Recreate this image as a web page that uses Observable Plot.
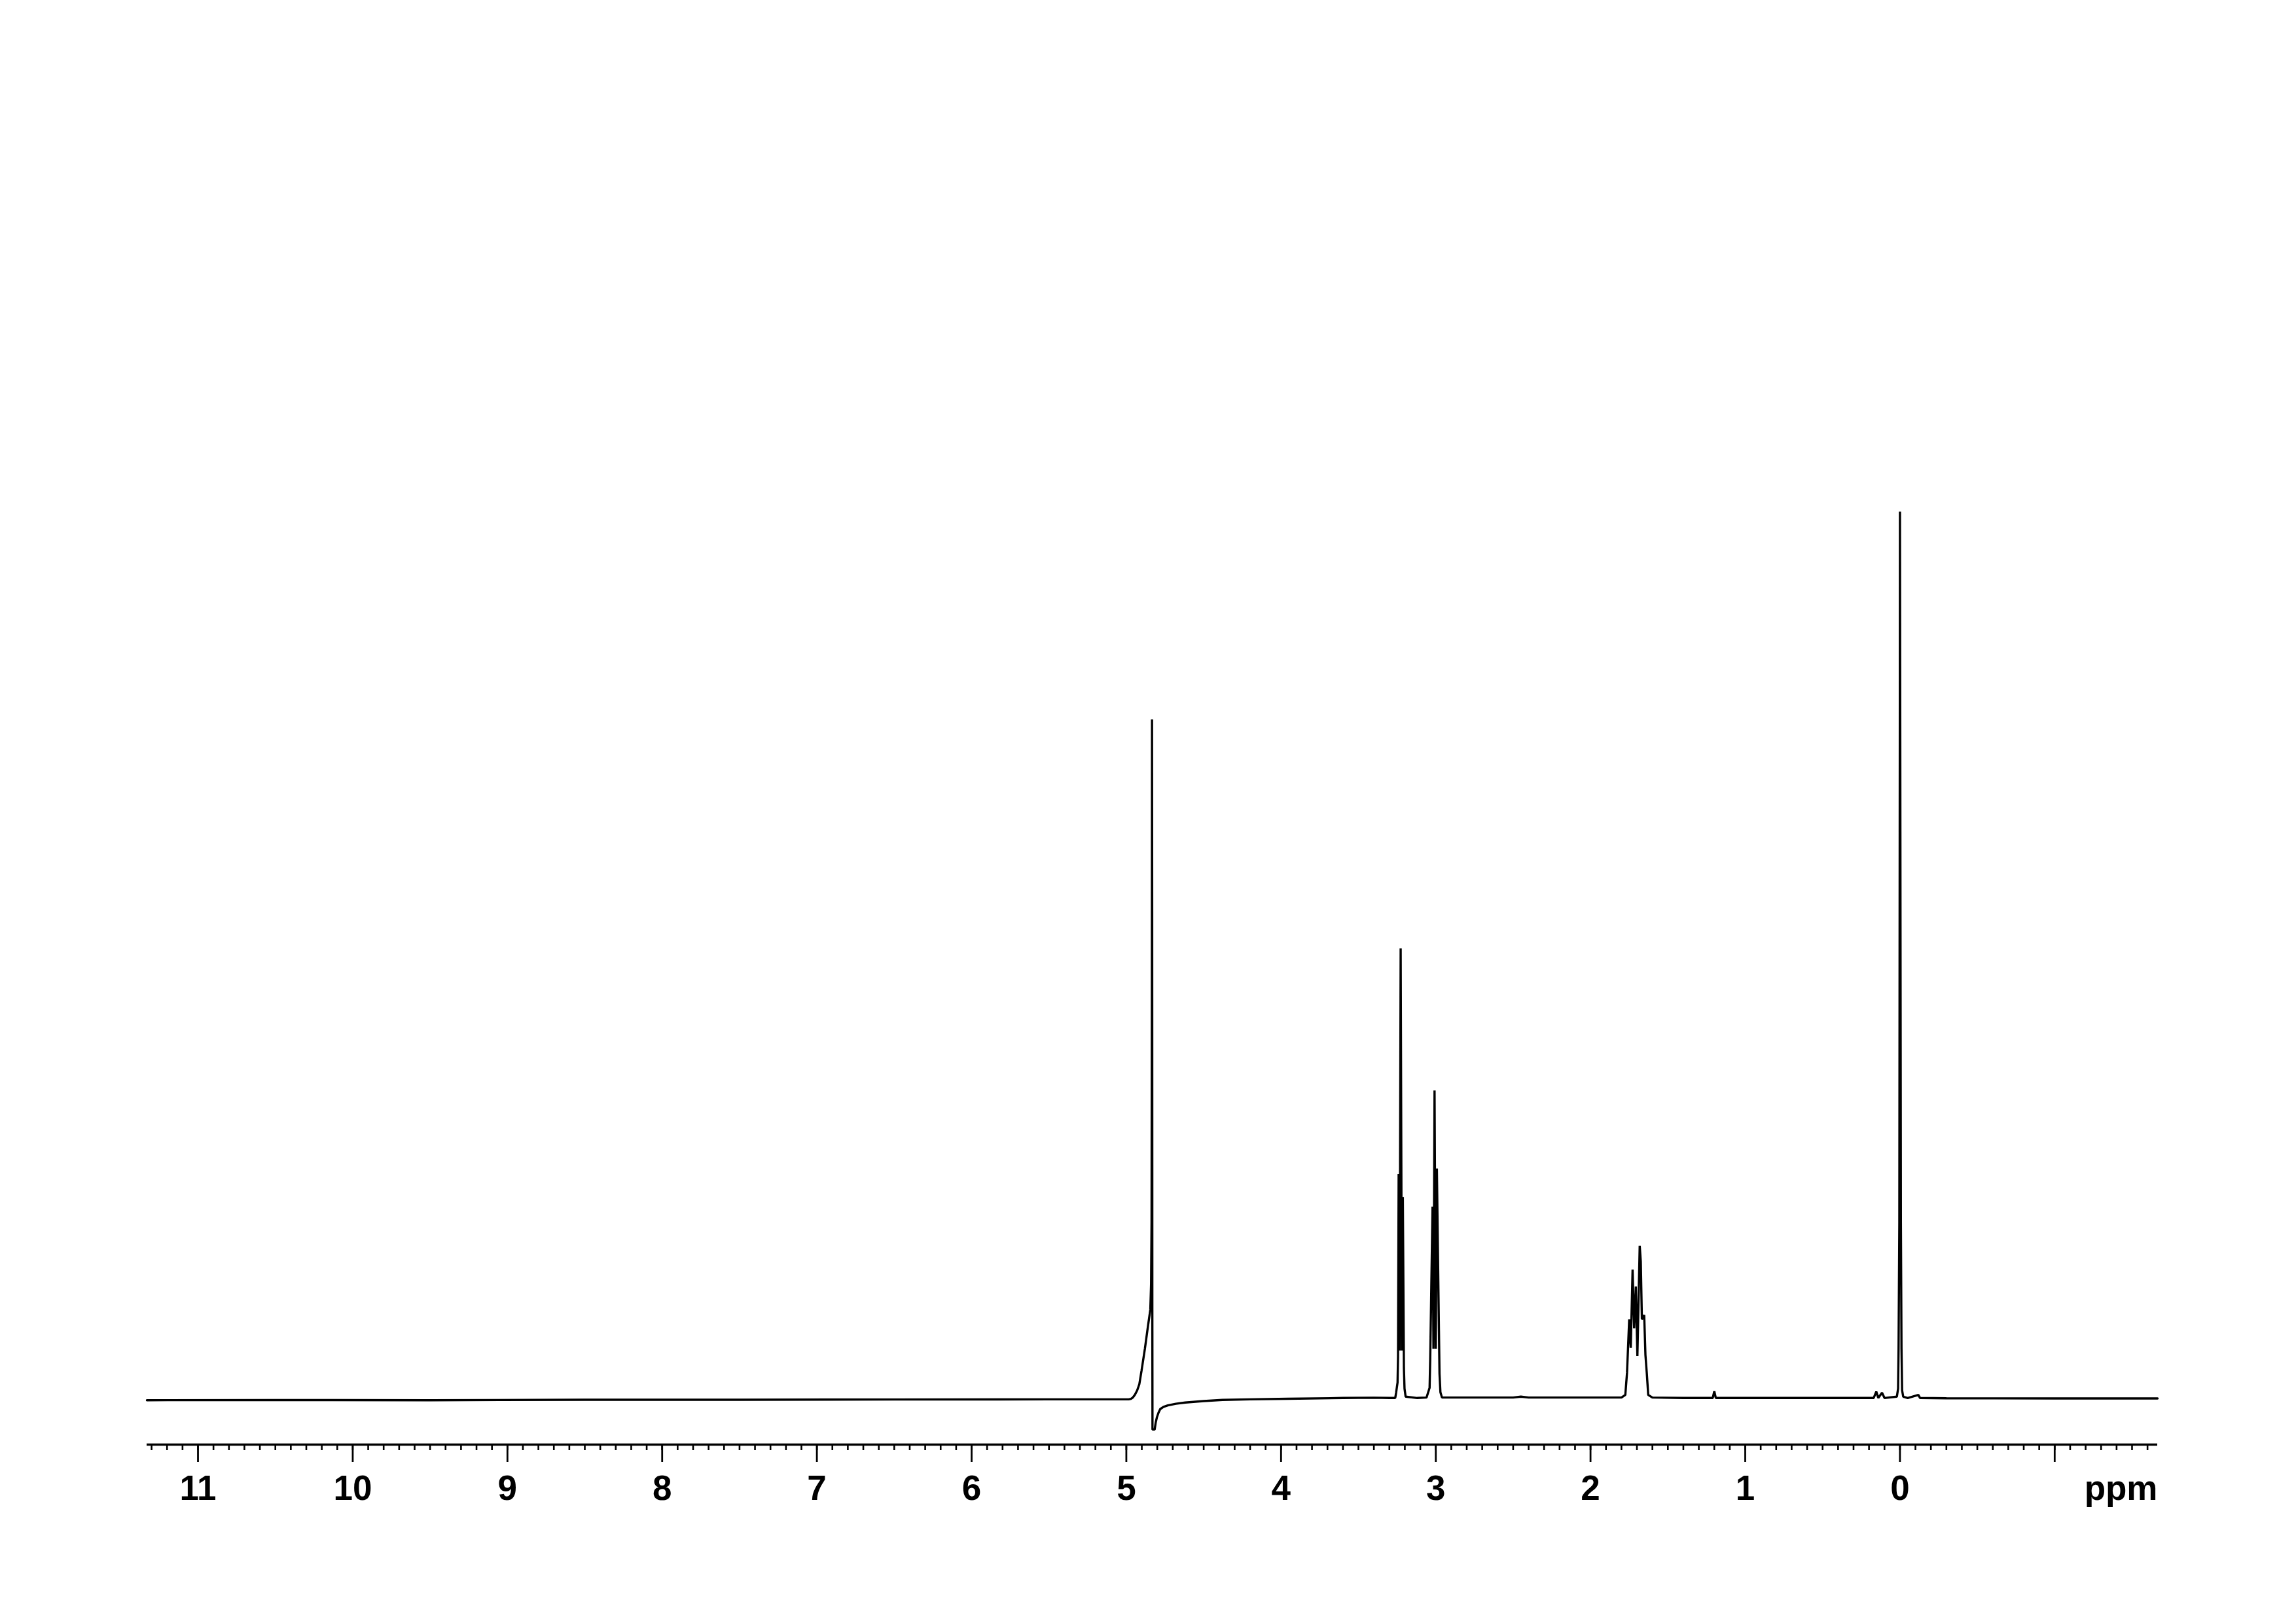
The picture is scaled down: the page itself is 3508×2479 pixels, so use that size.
<!DOCTYPE html>
<html><head><meta charset="utf-8">
<script src="https://cdn.jsdelivr.net/npm/d3@7"></script>
<script src="https://cdn.jsdelivr.net/npm/@observablehq/plot@0.6"></script>
<style>html,body{margin:0;padding:0;background:#fff;}</style>
</head><body><div id="chart"></div>
<script>
// ---- Data (chemical shift in ppm, relative intensity) ----
const baselineLeftPpm = [11.33, 10.5, 9.5, 8.5, 7.5, 6.5, 5.5, 5.0];
const baselineLeftInt = [-0.10, -0.08, -0.10, -0.05, -0.05, -0.02, 0.00, 0.00];

const waterPpm = [4.985, 4.970, 4.958, 4.945, 4.930, 4.916, 4.902, 4.880, 4.859, 4.845, 4.840, 4.837, 4.835, 4.834, 4.833, 4.832, 4.831, 4.817, 4.810, 4.802, 4.792, 4.781, 4.760, 4.732, 4.680, 4.619, 4.50, 4.379, 4.20, 3.956, 3.60, 3.40, 3.30, 3.262];
const waterInt = [0.0, 0.05, 0.2, 0.5, 1.0, 1.7, 3.2, 5.7, 8.4, 10.1, 13.0, 20, 45, 76.6, 55, 10, -3.4, -3.4, -2.6, -2.0, -1.5, -1.1, -0.85, -0.68, -0.5, -0.36, -0.2, -0.07, 0.0, 0.06, 0.15, 0.18, 0.15, 0.15];

const triplet322Ppm = [3.256, 3.247, 3.244, 3.240, 3.234, 3.227, 3.219, 3.213, 3.206, 3.202, 3.195, 3.12, 3.06];
const triplet322Int = [0.8, 1.9, 4.8, 25.4, 5.5, 50.8, 5.5, 22.8, 3.5, 1.2, 0.3, 0.15, 0.2];

const triplet301Ppm = [3.040, 3.036, 3.021, 3.015, 3.008, 3.000, 2.993, 2.976, 2.970, 2.96, 2.50, 2.45, 2.40, 2.0, 1.80];
const triplet301Int = [1.3, 4.5, 21.7, 5.7, 34.8, 5.7, 26.0, 2.9, 0.8, 0.2, 0.2, 0.3, 0.2, 0.2, 0.2];

const multipletPpm = [1.775, 1.764, 1.750, 1.740, 1.728, 1.718, 1.707, 1.697, 1.682, 1.675, 1.668, 1.653, 1.645, 1.636, 1.627, 1.60, 1.40];
const multipletInt = [0.5, 3.0, 9.0, 5.8, 14.6, 8.0, 12.7, 4.9, 17.3, 15.5, 9.0, 9.5, 5.0, 2.9, 0.5, 0.2, 0.15];

const minorPeaksPpm = [1.21, 1.20, 1.19, 0.8, 0.5, 0.17, 0.153, 0.14, 0.116, 0.10, 0.02];
const minorPeaksInt = [0.15, 0.9, 0.15, 0.15, 0.15, 0.15, 0.87, 0.15, 0.75, 0.15, 0.3];

const tmsPpm = [0.012, 0.009, 0.004, 0.001, 0.000, -0.002, -0.006, -0.010, -0.014, -0.021, -0.05, -0.119, -0.13, -0.3, -1.0, -1.665];
const tmsInt = [1.2, 5.7, 20, 74, 100, 74, 20, 5.7, 1.0, 0.3, 0.15, 0.5, 0.15, 0.12, 0.1, 0.1];

// ---- Axis values ----
const majorTicks = [11, 10, 9, 8, 7, 6, 5, 4, 3, 2, 1, 0, -1];
const tickLabels = ["11", "10", "9", "8", "7", "6", "5", "4", "3", "2", "1", "0", ""];
const minorTicks = d3.range(-16, 114).map(i => i / 10);
const xDomain = [11.33, -1.665];
const yDomain = [-5.1, 100];
const axisTitle = "ppm";

const segments = [
  [baselineLeftPpm, baselineLeftInt],
  [waterPpm, waterInt],
  [triplet322Ppm, triplet322Int],
  [triplet301Ppm, triplet301Int],
  [multipletPpm, multipletInt],
  [minorPeaksPpm, minorPeaksInt],
  [tmsPpm, tmsInt]
];
const spectrum = segments
  .flatMap(([p, v]) => p.map((x, i) => ({ppm: x, intensity: v[i]})))
  .sort((a, b) => b.ppm - a.ppm);

const font = "'Liberation Sans', Arial, Helvetica, sans-serif";

const chart = Plot.plot({
  width: 3508,
  height: 2479,
  marginLeft: 224,
  marginRight: 212,
  marginTop: 781,
  marginBottom: 273,
  x: {domain: xDomain, label: null},
  y: {domain: yDomain, axis: null},
  style: {background: "white", fontFamily: font, color: "black"},
  marks: [
    Plot.ruleY([yDomain[0]], {stroke: "black", strokeWidth: 3.5}),
    Plot.axisX(minorTicks, {anchor: "bottom", tickSize: 9, tickFormat: () => "", strokeWidth: 2.6, label: null}),
    Plot.axisX(majorTicks, {anchor: "bottom", tickSize: 27, tickPadding: 20,
      tickFormat: d => tickLabels[majorTicks.indexOf(d)],
      fontSize: 53, fontWeight: "bold", fontFamily: font, strokeWidth: 2.8, label: null}),
    Plot.text([axisTitle], {x: [xDomain[1]], frameAnchor: "bottom", textAnchor: "end", lineAnchor: "top",
      dy: 47, fontSize: 53, fontWeight: "bold", fontFamily: font, fill: "black"}),
    Plot.line(spectrum, {x: "ppm", y: "intensity", stroke: "black", strokeWidth: 3.4, strokeLinejoin: "miter"})
  ]
});
document.getElementById("chart").append(chart);
</script>
</body></html>
